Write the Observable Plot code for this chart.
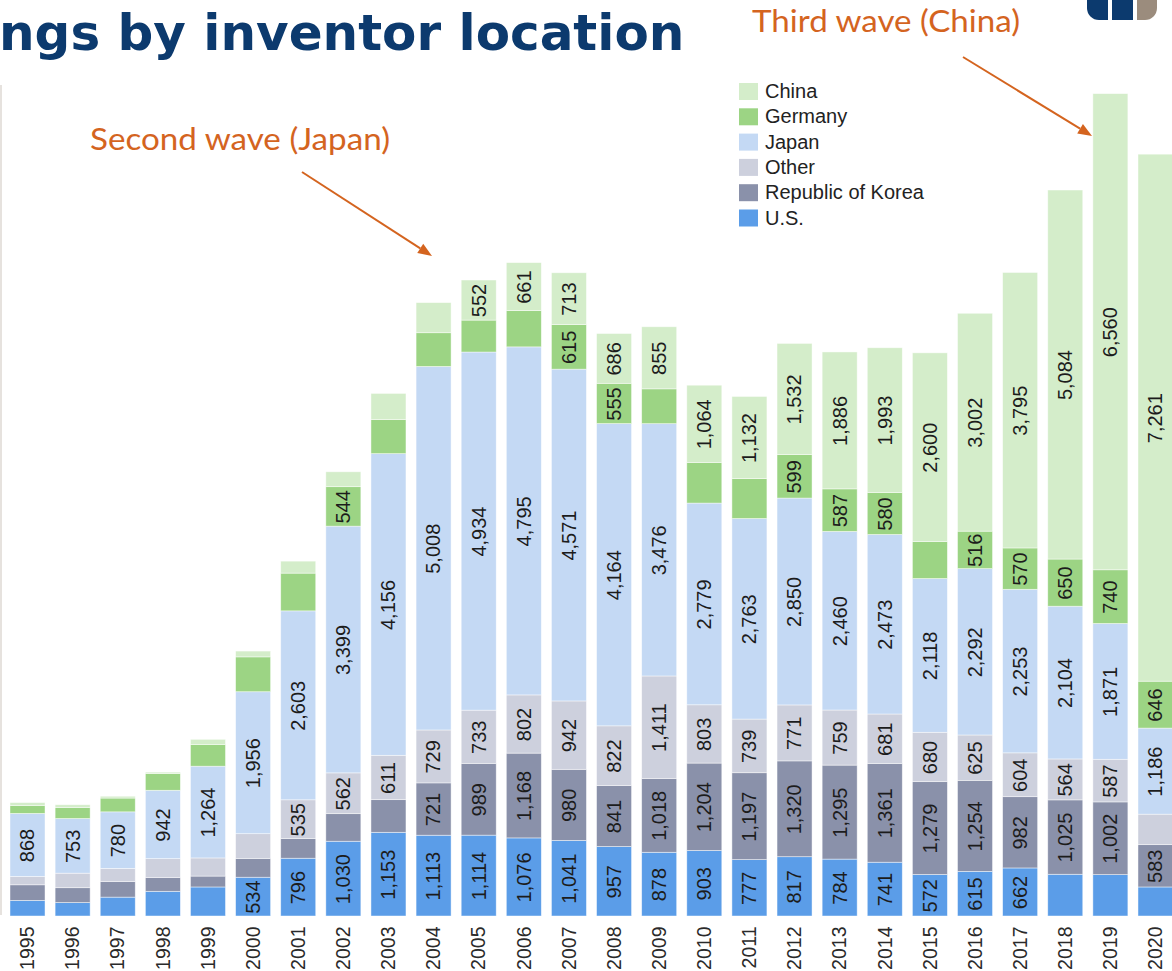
<!DOCTYPE html>
<html><head><meta charset="utf-8">
<script src="https://cdn.jsdelivr.net/npm/d3@7"></script>
<script src="https://cdn.jsdelivr.net/npm/@observablehq/plot@0.6"></script>
<style>
html,body{margin:0;padding:0;background:#fff;overflow:hidden}
#wrap{position:relative;width:1172px;height:971px;overflow:hidden;background:#fff}
#chart{position:absolute;left:0;top:0;width:1180px}
#chart svg{max-width:none !important}
#over{position:absolute;left:0;top:0;pointer-events:none}
</style></head><body>
<div id="wrap"><div id="chart"></div><svg id="over" width="1172" height="971"></svg></div>
<script>
const years = ["1995","1996","1997","1998","1999","2000","2001","2002","2003","2004","2005","2006","2007","2008","2009","2010","2011","2012","2013","2014","2015","2016","2017","2018","2019","2020"];
const series = ["U.S.","Republic of Korea","Other","Japan","Germany","China"];
const legendOrder = ["China","Germany","Japan","Other","Republic of Korea","U.S."];
const colors = ["#5b9de8","#8a91aa","#cdd0dd","#c4d9f4","#9cd484","#d4edca"];

const us      = [215,185,260,340,400,534,796,1030,1153,1113,1114,1076,1041,957,878,903,777,817,784,741,572,615,662,575,570,400];
const korea   = [215,205,215,190,150,260,270,380,450,721,989,1168,980,841,1018,1204,1197,1320,1295,1361,1279,1254,982,1025,1002,583];
const other   = [115,200,180,260,250,340,535,562,611,729,733,802,942,822,1411,803,739,771,759,681,680,625,604,564,587,420];
const japan   = [868,753,780,942,1264,1956,2603,3399,4156,5008,4934,4795,4571,4164,3476,2779,2763,2850,2460,2473,2118,2292,2253,2104,1871,1186];
const germany = [110,150,190,230,300,480,520,544,470,465,440,500,615,555,480,560,550,599,587,580,510,516,570,650,740,646];
const china   = [40,40,25,20,70,80,165,205,360,415,552,661,713,686,855,1064,1132,1532,1886,1993,2600,3002,3795,5084,6560,7261];

// years whose segment carries no value label in the original
const unlabeledUS      = ["1995","1996","1997","1998","1999","2018","2019","2020"];
const unlabeledKorea   = ["1995","1996","1997","1998","1999","2000","2001","2002","2003"];
const unlabeledOther   = ["1995","1996","1997","1998","1999","2000","2020"];
const unlabeledJapan   = [];
const unlabeledGermany = ["1995","1996","1997","1998","1999","2000","2001","2003","2004","2005","2006","2009","2010","2011","2015"];
const unlabeledChina   = ["1995","1996","1997","1998","1999","2000","2001","2002","2003","2004"];

const title = "ngs by inventor location";
const note1 = "Second wave (Japan)";
const note2 = "Third wave (China)";

const values = [us, korea, other, japan, germany, china];
const unl = [unlabeledUS, unlabeledKorea, unlabeledOther, unlabeledJapan, unlabeledGermany, unlabeledChina];
const rows = [];
years.forEach((yr, i) => {
  let acc = 0;
  series.forEach((s, j) => {
    const v = values[j][i];
    rows.push({year: yr, series: s, value: v, y1: acc, y2: acc + v, label: !unl[j].includes(yr)});
    acc += v;
  });
});
const fmt = d3.format(",");

const chart = Plot.plot({
  width: 1180, height: 971,
  marginLeft: 10, marginRight: 7, marginTop: 45, marginBottom: 55,
  x: {type: "band", domain: years, paddingInner: 0.224, paddingOuter: 0, round: false, label: null},
  y: {domain: [0, 12000], axis: null},
  color: {domain: series, range: colors},
  style: {fontFamily: "'Liberation Sans', Arial, sans-serif", fontSize: "19.5px", color: "#222", background: "transparent", overflow: "visible", maxWidth: "none"},
  marks: [
    Plot.rectY(rows, {x: "year", y1: "y1", y2: "y2", fill: "series", stroke: "#ffffff", strokeOpacity: 0.6, strokeWidth: 0.75}),
    Plot.text(rows.filter(d => d.label), {x: "year", y: d => (d.y1 + d.y2) / 2, text: d => fmt(d.value), rotate: -90, fontSize: 20, fill: "#1c1c1c"}),
    Plot.axisX({tickSize: 0, tickPadding: 10, tickRotate: -90, label: null, fill: "#2a2a2a"})
  ]
});
document.getElementById("chart").appendChild(chart);

// overlay: title, legend, annotations, decoration
const over = d3.select("#over");
over.append("rect").attr("x", 0).attr("y", 85).attr("width", 2).attr("height", 830).attr("fill", "#e6e2de");
over.append("text").attr("x", -1).attr("y", 50)
  .attr("font-family", "'DejaVu Sans', sans-serif").attr("font-weight", "bold").attr("font-size", 50)
  .attr("fill", "#0c3a6e").text(title);
// logo
over.append("path").attr("d", "M1087,0 H1108 V20 H1099 A12,12 0 0 1 1087,8 Z").attr("fill", "#0c3a6e");
over.append("rect").attr("x", 1112).attr("y", 0).attr("width", 21).attr("height", 20).attr("fill", "#0c3a6e");
over.append("path").attr("d", "M1137,0 H1157 V8 A12,12 0 0 1 1145,20 H1137 Z").attr("fill", "#9b8c7d");

// legend
const colorOf = s => colors[series.indexOf(s)];
legendOrder.forEach((s, i) => {
  const y0 = 83 + i * 25.3;
  over.append("rect").attr("x", 739).attr("y", y0).attr("width", 19).attr("height", 17).attr("fill", colorOf(s));
  over.append("text").attr("x", 765).attr("y", y0 + 15).attr("font-family", "'Liberation Sans', Arial, sans-serif")
    .attr("font-size", 20).attr("fill", "#222").text(s);
});

// annotations
const orange = "#d4641f";
function arrow(x1, y1, x2, y2) {
  const dx = x2 - x1, dy = y2 - y1, L = Math.hypot(dx, dy), ux = dx / L, uy = dy / L;
  const hl = 14, hw = 5.5;
  const bx = x2 - hl * ux, by = y2 - hl * uy;
  over.append("line").attr("x1", x1).attr("y1", y1).attr("x2", bx).attr("y2", by).attr("stroke", orange).attr("stroke-width", 2);
  over.append("polygon").attr("points", `${x2},${y2} ${bx - hw * uy},${by + hw * ux} ${bx + hw * uy},${by - hw * ux}`).attr("fill", orange);
}
over.append("text").attr("x", 90).attr("y", 150).attr("font-family", "Lato, sans-serif").attr("font-size", 31)
  .attr("fill", orange).attr("textLength", 300).attr("lengthAdjust", "spacingAndGlyphs").text(note1);
over.append("text").attr("x", 752).attr("y", 32).attr("font-family", "Lato, sans-serif").attr("font-size", 31)
  .attr("fill", orange).attr("textLength", 268).attr("lengthAdjust", "spacingAndGlyphs").text(note2);
arrow(302, 172, 432, 256);
arrow(963, 57, 1092, 136);
</script>
</body></html>
